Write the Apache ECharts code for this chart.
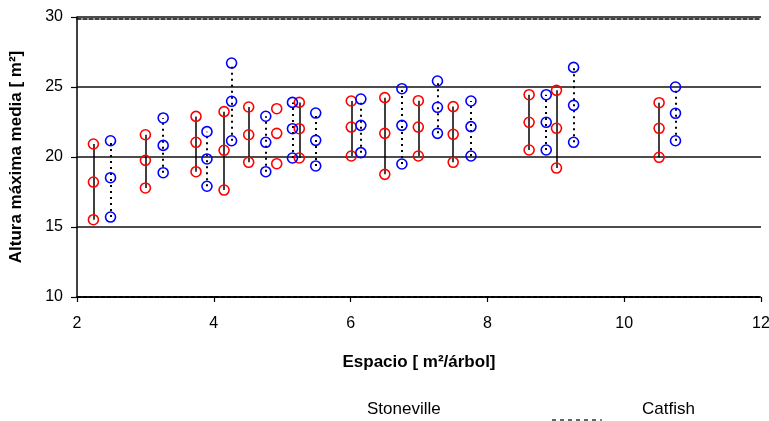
<!DOCTYPE html>
<html>
<head>
<meta charset="utf-8">
<script src="https://cdn.jsdelivr.net/npm/echarts@6/dist/echarts.min.js"></script>
<style>html,body{margin:0;padding:0;background:#fff;}#c{width:769px;height:421px;}</style>
</head>
<body>
<div id="c"></div>
<script>
// Stoneville (red, solid line)
const stoneX    = [2.24, 3.00, 3.74, 4.15, 4.51, 4.92, 5.25, 6.01, 6.50, 6.99, 7.50, 8.61, 9.01, 10.51];
const stoneMax  = [20.93, 21.59, 22.90, 23.24, 23.57, 23.45, 23.90, 24.00, 24.24, 24.02, 23.60, 24.45, 24.76, 23.88];
const stoneMean = [18.21, 19.76, 21.05, 20.48, 21.59, 21.69, 22.02, 22.14, 21.69, 22.14, 21.62, 22.48, 22.05, 22.05];
const stoneMin  = [15.52, 17.79, 18.95, 17.64, 19.62, 19.52, 19.93, 20.07, 18.76, 20.07, 19.62, 20.50, 19.21, 19.98];
const stoneLinked = [true, true, true, true, true, false, true, true, true, true, true, true, true, true];

// Catfish (blue, dotted line)
const catX    = [2.49, 3.26, 3.90, 4.26, 4.76, 5.15, 5.49, 6.15, 6.75, 7.27, 7.76, 8.86, 9.26, 10.75];
const catMax  = [21.16, 22.79, 21.81, 26.71, 22.91, 23.90, 23.14, 24.14, 24.88, 25.43, 24.00, 24.45, 26.40, 25.00];
const catMean = [18.52, 20.83, 19.86, 23.98, 21.05, 22.02, 21.19, 22.26, 22.26, 23.55, 22.17, 22.48, 23.69, 23.12];
const catMin  = [15.71, 18.88, 17.91, 21.16, 18.95, 19.93, 19.36, 20.31, 19.50, 21.69, 20.07, 20.50, 21.05, 21.16];

const xTicks = [2, 4, 6, 8, 10, 12];
const yTicks = [10, 15, 20, 25, 30];
const seriesNames = ['Stoneville', 'Catfish'];
const xTitle = 'Espacio [ m²/árbol]';
const yTitle = 'Altura máxima media [ m²]';

function points(xs, a, b, c) {
  const out = [];
  xs.forEach((x, i) => { out.push([x, a[i]], [x, b[i]], [x, c[i]]); });
  return out;
}
function segs(xs, lo, hi, linked) {
  const out = [];
  xs.forEach((x, i) => { if (!linked || linked[i]) out.push({ coords: [[x, lo[i]], [x, hi[i]]] }); });
  return out;
}

const font = 'Liberation Sans, Arial, sans-serif';
const chart = echarts.init(document.getElementById('c'), null, { renderer: 'canvas' });
chart.setOption({
  animation: false,
  backgroundColor: '#fff',
  grid: { left: 77, top: 17, right: 8, bottom: 124, containLabel: false, outerBoundsMode: 'none' },
  xAxis: [{
    type: 'value', min: xTicks[0], max: xTicks[xTicks.length - 1], interval: 2,
    name: xTitle, nameLocation: 'middle', nameGap: 57,
    nameTextStyle: { fontFamily: font, fontSize: 17, fontWeight: 'bold', color: '#000' },
    axisLine: { lineStyle: { color: '#000', width: 2, type: [4, 2] } },
    axisTick: { show: true, inside: false, length: 5, lineStyle: { color: '#000', width: 1.2 } },
    axisLabel: { margin: 19, fontFamily: font, fontSize: 16, color: '#000', showMaxLabel: true },
    splitLine: { show: false }
  }, {
    type: 'value', position: 'top', min: xTicks[0], max: xTicks[xTicks.length - 1], interval: 2, offset: -2,
    axisLine: { show: true, lineStyle: { color: '#000', width: 1.5, type: [4, 2] } },
    axisTick: { show: false }, axisLabel: { show: false }, splitLine: { show: false }
  }],
  yAxis: {
    type: 'value', min: yTicks[0], max: yTicks[yTicks.length - 1], interval: 5,
    name: yTitle, nameLocation: 'middle', nameGap: 52, nameRotate: 90,
    nameTextStyle: { fontFamily: font, fontSize: 17, fontWeight: 'bold', color: '#000' },
    axisLine: { show: true, lineStyle: { color: '#000', width: 1.5 } },
    axisTick: { show: true, inside: false, length: 6, lineStyle: { color: '#000', width: 1.2 } },
    axisLabel: { margin: 14, fontFamily: font, fontSize: 16, color: '#000' },
    splitLine: { show: true, lineStyle: { color: '#111', width: 1.5 } }
  },
  series: [
    {
      name: seriesNames[0] + ' line', type: 'lines', coordinateSystem: 'cartesian2d', z: 2,
      lineStyle: { color: '#000', width: 1.5, type: 'solid', opacity: 1 },
      data: segs(stoneX, stoneMin, stoneMax, stoneLinked), silent: true
    },
    {
      name: seriesNames[1] + ' line', type: 'lines', coordinateSystem: 'cartesian2d', z: 2,
      lineStyle: { color: '#000', width: 2, type: [2, 4], opacity: 1 },
      data: segs(catX, catMin, catMax, null), silent: true
    },
    {
      name: seriesNames[0], type: 'scatter', z: 3, symbol: 'circle', symbolSize: 10,
      itemStyle: { color: 'rgba(0,0,0,0)', borderColor: '#ff0000', borderWidth: 1.6, opacity: 1 },
      data: points(stoneX, stoneMax, stoneMean, stoneMin)
    },
    {
      name: seriesNames[1], type: 'scatter', z: 3, symbol: 'circle', symbolSize: 10,
      itemStyle: { color: 'rgba(0,0,0,0)', borderColor: '#0000ff', borderWidth: 1.6, opacity: 1 },
      data: points(catX, catMax, catMean, catMin)
    }
  ],
  graphic: [
    { type: 'text', left: 367, top: 401, style: { text: seriesNames[0], font: '17px ' + font, fill: '#000' } },
    { type: 'text', left: 642, top: 401, style: { text: seriesNames[1], font: '17px ' + font, fill: '#000' } },
    { type: 'line', shape: { x1: 552, y1: 420, x2: 602, y2: 420 }, style: { stroke: '#000', lineWidth: 1.2, lineDash: [4, 4] } }
  ]
});
</script>
</body>
</html>
